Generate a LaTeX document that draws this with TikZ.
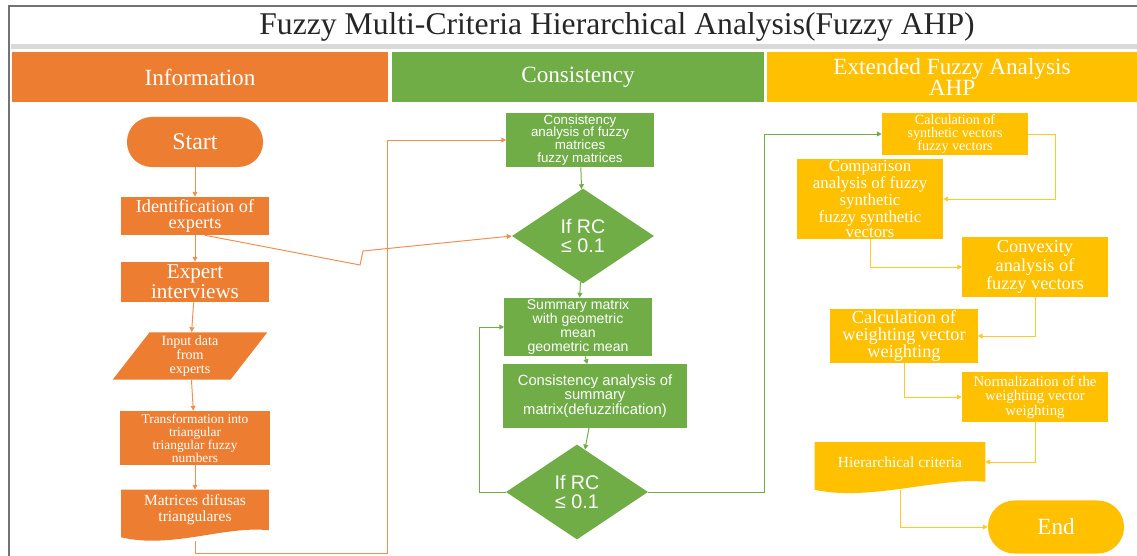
\documentclass[tikz,border=0pt]{standalone}
\usepackage{fontspec}
\setmainfont{Liberation Serif}
\setsansfont{Liberation Sans}
\usepackage{tikz}
\usetikzlibrary{shapes.geometric, arrows.meta, backgrounds}

\definecolor{infoorange}{HTML}{ED7D31}
\definecolor{consgreen}{HTML}{70AD47}
\definecolor{fahpyellow}{HTML}{FFC000}
\newcommand{\fsz}[2]{\fontsize{#1}{#2}\selectfont}

\begin{document}
\begin{tikzpicture}[x=0.025cm, y=-0.025cm,
    head/.style={rectangle, minimum height=1.25cm, text=white, align=center, inner sep=0pt},
    obox/.style={rectangle, fill=infoorange, text=white, align=center, inner sep=1pt},
    gbox/.style={rectangle, fill=consgreen, text=white, align=center, inner sep=1pt},
    ybox/.style={rectangle, fill=fahpyellow, text=white, align=center, inner sep=1pt},
    gdiam/.style={diamond, fill=consgreen, text=white, align=center, inner sep=0pt,
        minimum width=3.55cm, minimum height=2.375cm, font=\sffamily\fsz{14}{14}},
    oline/.style={draw=infoorange!85, line width=0.7pt},
    gline/.style={draw=consgreen, line width=0.7pt},
    yline/.style={draw=fahpyellow!85, line width=0.7pt},
    tip/.style={-{Triangle[length=3.5pt, width=3.5pt]}}]

    \useasboundingbox (0,0) rectangle (1137,556);

    % frame and title
    \draw[black!55, line width=2pt] (9,556) -- (9,6) -- (1137,6);
    \fill[black!15] (11,44) rectangle (1137,49);
    \node[font=\fsz{22.5}{24}, text=black!85] (title) at (617,27) {Fuzzy Multi-Criteria Hierarchical Analysis(Fuzzy AHP)};

    % column heads
    \node[head, fill=infoorange, minimum width=9.4cm, font=\fsz{16.5}{18}] (hinfo) at (200,77) {Information};
    \node[head, fill=consgreen, minimum width=9.3cm, font=\fsz{16.5}{18}] (hcons) at (578,77) {Consistency};
    \node[head, fill=fahpyellow, minimum width=9.25cm, font=\fsz{16.5}{15}] (hext) at (952,77) {Extended Fuzzy Analysis\\AHP};

    % information
    \node[obox, rounded corners=0.62cm, minimum width=3.4cm, minimum height=1.25cm, font=\fsz{17}{18}] (start) at (195,142) {Start};
    \node[obox, minimum width=3.675cm, minimum height=0.95cm, font=\fsz{13}{11.5}] (ident) at (195,216) {Identification of\\experts};
    \node[obox, minimum width=3.675cm, minimum height=1cm, font=\fsz{15}{14}] (interv) at (195,282) {Expert\\interviews};
    \node[trapezium, trapezium left angle=58, trapezium right angle=122, trapezium stretches=true,
        fill=infoorange, text=white, align=center, inner sep=0pt,
        minimum width=3.875cm, minimum height=1.175cm, font=\fsz{10}{10}] (input) at (190,356) {Input data\\from\\experts};
    \node[obox, minimum width=3.725cm, minimum height=1.35cm, font=\fsz{9.5}{9.3}] (transf) at (195,438) {Transformation into\\triangular\\triangular fuzzy\\numbers};
    \node[obox, fill=none, minimum width=3.675cm, minimum height=1cm, font=\fsz{11}{11.5}] (mat) at (195,510) {Matrices difusas\\triangulares};

    % consistency
    \node[gbox, minimum width=3.675cm, minimum height=1.25cm, font=\sffamily\fsz{9.5}{9.2}] (cfuzzy) at (580,140) {Consistency\\analysis of fuzzy\\matrices\\fuzzy matrices};
    \node[gdiam] (rc1) at (583,236) {If RC\\≤ 0.1};
    \node[gbox, minimum width=3.675cm, minimum height=1.25cm, font=\sffamily\fsz{10}{10}] (summ) at (578,327) {Summary matrix\\with geometric\\mean\\geometric mean};
    \node[gbox, minimum width=4.6cm, minimum height=1.575cm, font=\sffamily\fsz{10.5}{10.5}] (csumm) at (595,396) {Consistency analysis of\\summary\\matrix(defuzzification)};
    \node[gdiam] (rc2) at (577,492) {If RC\\≤ 0.1};

    % extended fuzzy AHP
    \node[ybox, minimum width=3.65cm, minimum height=0.95cm, font=\fsz{10}{9.3}] (synth) at (955,134) {Calculation of\\synthetic vectors\\fuzzy vectors};
    \node[ybox, minimum width=3.65cm, minimum height=1.8cm, font=\fsz{12}{10.4}] (compar) at (870,199) {Comparison\\analysis of fuzzy\\synthetic\\fuzzy synthetic\\vectors};
    \node[ybox, minimum width=3.625cm, minimum height=1.5cm, font=\fsz{13}{11.7}] (convex) at (1035,267) {Convexity\\analysis of\\fuzzy vectors};
    \node[ybox, minimum width=3.675cm, minimum height=1.2cm, font=\fsz{13}{12}] (weight) at (904,336) {Calculation of\\weighting vector\\weighting};
    \node[ybox, minimum width=3.65cm, minimum height=1.225cm, font=\fsz{10.5}{10.3}] (normw) at (1035,397) {Normalization of the\\weighting vector\\weighting};
    \node[ybox, fill=none, minimum width=4.25cm, minimum height=0.975cm, font=\fsz{11}{12}] (hier) at (900,462) {Hierarchical criteria};
    \node[ybox, rounded corners=0.66cm, minimum width=3.4cm, minimum height=1.325cm, font=\fsz{16.5}{18}] (endn) at (1056,527) {End};

    % document shapes with a wavy lower edge
    \begin{scope}[on background layer]
        \fill[infoorange] (mat.north west) -- (mat.north east) -- (mat.south east)
            .. controls +(-43,-5) and +(50,12) .. ([yshift=-0.175cm]mat.south west) -- cycle;
        \fill[fahpyellow] (hier.north west) -- (hier.north east) -- (hier.south east)
            .. controls +(-45,-5) and +(55,12) .. ([yshift=-0.2cm]hier.south west) -- cycle;
    \end{scope}

    \coordinate (loopm) at (387,553);
    \coordinate (kinka) at (360,265);
    \coordinate (kinkb) at (363,251);

    % connectors
    \draw[oline, tip] (start) -- (ident);
    \draw[oline, tip] (ident) -- (interv);
    \draw[oline, tip] (interv) -- (input);
    \draw[oline, tip] (input) -- (transf);
    \draw[oline, tip] (transf) -- (mat);
    \draw[oline, tip] ([yshift=-0.27cm]mat.south) |- (loopm) |- (cfuzzy.west);
    \draw[oline, tip] ([xshift=0.25cm]ident.south) -- (kinka) -- (kinkb) -- (rc1.west);

    \draw[gline, tip] (cfuzzy) -- (rc1);
    \draw[gline, tip] (rc1) -- (summ);
    \draw[gline, tip] (summ) -- (csumm);
    \draw[gline, tip] (csumm) -- (rc2);
    \draw[gline, tip] (rc2.west) -| ([xshift=-0.625cm]summ.west) -- (summ.west);
    \draw[gline, tip] (rc2.east) -| ([xshift=-2.925cm]synth.west) -- (synth.west);

    \draw[yline, tip] (synth.east) -- ++(27,0) |- (compar.east);
    \draw[yline, tip] (compar.south) |- (convex.west);
    \draw[yline, tip] (convex.south) |- (weight.east);
    \draw[yline, tip] (weight.south) |- (normw.west);
    \draw[yline, tip] (normw.south) |- (hier.east);
    \draw[yline, tip] ([yshift=-0.2cm]hier.south) |- (endn.west);
\end{tikzpicture}
\end{document}
